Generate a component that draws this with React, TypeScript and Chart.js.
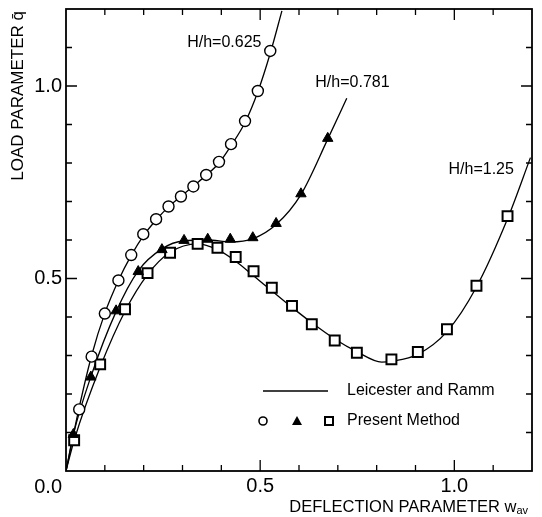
import React, { useEffect, useRef } from 'react';
import { Chart, registerables } from 'chart.js';

Chart.register(...registerables);

// ---- Data ----
// Present Method markers
const circleX = [0.034, 0.066, 0.1, 0.135, 0.168, 0.199, 0.232, 0.264, 0.296, 0.328, 0.361, 0.394, 0.425, 0.461, 0.494, 0.526];
const circleY = [0.16, 0.297, 0.409, 0.495, 0.561, 0.615, 0.654, 0.687, 0.713, 0.739, 0.769, 0.803, 0.849, 0.909, 0.987, 1.091];

const triangleX = [0.019, 0.064, 0.129, 0.186, 0.247, 0.304, 0.365, 0.423, 0.481, 0.541, 0.605, 0.674];
const triangleY = [0.095, 0.244, 0.416, 0.518, 0.575, 0.599, 0.602, 0.602, 0.606, 0.643, 0.72, 0.864];

const squareX = [0.021, 0.088, 0.152, 0.21, 0.268, 0.339, 0.39, 0.437, 0.483, 0.53, 0.582, 0.633, 0.692, 0.749, 0.838, 0.906, 0.981, 1.057, 1.137];
const squareY = [0.08, 0.277, 0.42, 0.514, 0.567, 0.59, 0.58, 0.556, 0.519, 0.476, 0.429, 0.381, 0.339, 0.307, 0.29, 0.309, 0.368, 0.481, 0.662];

// Leicester and Ramm curves
const line625X = [0, 0.034, 0.066, 0.1, 0.135, 0.168, 0.2, 0.232, 0.264, 0.296, 0.328, 0.361, 0.394, 0.425, 0.461, 0.494, 0.526, 0.556];
const line625Y = [0, 0.165, 0.3, 0.41, 0.495, 0.56, 0.612, 0.652, 0.686, 0.713, 0.74, 0.768, 0.8, 0.845, 0.905, 0.985, 1.085, 1.195];

const line781X = [0, 0.019, 0.064, 0.129, 0.186, 0.247, 0.304, 0.365, 0.423, 0.481, 0.541, 0.605, 0.674, 0.723];
const line781Y = [0, 0.095, 0.245, 0.414, 0.52, 0.577, 0.598, 0.6, 0.595, 0.603, 0.64, 0.718, 0.862, 0.968];

const line125X = [0, 0.021, 0.088, 0.152, 0.21, 0.268, 0.339, 0.39, 0.437, 0.483, 0.53, 0.582, 0.633, 0.692, 0.749, 0.813, 0.838, 0.906, 0.981, 1.057, 1.137, 1.196];
const line125Y = [0, 0.08, 0.27, 0.415, 0.51, 0.568, 0.59, 0.575, 0.545, 0.507, 0.468, 0.425, 0.385, 0.343, 0.31, 0.283, 0.285, 0.303, 0.362, 0.478, 0.655, 0.814];

// Axes
const minorTicks = [0.1, 0.2, 0.3, 0.4, 0.6, 0.7, 0.8, 0.9, 1.1];
const majorTicks = [0.5, 1.0];
const tickLabels = ['0.5', '1.0'];
const cornerLabel = '0.0';
const xTitle = 'DEFLECTION PARAMETER w';
const xTitleSub = 'av';
const yTitle = 'LOAD PARAMETER q\u0304';

// Curve labels and legend text
const seriesLabels = ['H/h=0.625', 'H/h=0.781', 'H/h=1.25'];
const seriesLabelAt = [
  [0.312, 1.112],
  [0.642, 1.008],
  [0.985, 0.782],
];
const legendLine = 'Leicester and Ramm';
const legendMarkers = 'Present Method';

const FONT = "'Liberation Sans', Arial, Helvetica, sans-serif";

const toPts = (xs: number[], ys: number[]) => xs.map((x, i) => ({ x, y: ys[i] }));

const fmt = (v: number) => {
  const i = majorTicks.findIndex((m) => Math.abs(m - v) < 1e-6);
  return i >= 0 ? tickLabels[i] : '';
};

const decorPlugin = {
  id: 'decor',
  afterDraw(chart: any) {
    const { ctx, chartArea: a } = chart;
    const xs = chart.scales.x;
    const ys = chart.scales.y;
    ctx.save();
    ctx.strokeStyle = '#000';
    ctx.fillStyle = '#000';

    // frame
    ctx.lineWidth = 1.8;
    ctx.strokeRect(a.left, a.top, a.right - a.left, a.bottom - a.top);

    // inner ticks on all four sides
    ctx.lineWidth = 1.3;
    const drawTicks = (vals: number[], len: number) => {
      ctx.beginPath();
      for (const v of vals) {
        const px = xs.getPixelForValue(v);
        ctx.moveTo(px, a.bottom);
        ctx.lineTo(px, a.bottom - len);
        ctx.moveTo(px, a.top);
        ctx.lineTo(px, a.top + len);
        const py = ys.getPixelForValue(v);
        ctx.moveTo(a.left, py);
        ctx.lineTo(a.left + len, py);
        ctx.moveTo(a.right, py);
        ctx.lineTo(a.right - len, py);
      }
      ctx.stroke();
    };
    drawTicks(minorTicks, 6);
    drawTicks(majorTicks, 11);

    // corner label 0.0
    ctx.font = `20px ${FONT}`;
    ctx.textAlign = 'right';
    ctx.textBaseline = 'middle';
    ctx.fillText(cornerLabel, a.left - 4, a.bottom + 16);

    // x axis title with subscript
    ctx.font = `16.5px ${FONT}`;
    const mainW = ctx.measureText(xTitle).width;
    ctx.font = `11px ${FONT}`;
    const subW = ctx.measureText(xTitleSub).width;
    const endX = a.right - 4;
    const ty = a.bottom + 36;
    ctx.textAlign = 'left';
    ctx.font = `16.5px ${FONT}`;
    ctx.fillText(xTitle, endX - subW - mainW, ty);
    ctx.font = `11px ${FONT}`;
    ctx.fillText(xTitleSub, endX - subW, ty + 4);

    // y axis title (rotated)
    ctx.save();
    ctx.translate(18, a.top + 2);
    ctx.rotate(-Math.PI / 2);
    ctx.font = `17px ${FONT}`;
    ctx.textAlign = 'right';
    ctx.textBaseline = 'middle';
    ctx.fillText(yTitle, 0, 0);
    ctx.restore();

    // curve labels
    ctx.font = `16px ${FONT}`;
    ctx.textAlign = 'left';
    ctx.textBaseline = 'middle';
    seriesLabels.forEach((t, i) => {
      const [lx, ly] = seriesLabelAt[i];
      ctx.fillText(t, xs.getPixelForValue(lx), ys.getPixelForValue(ly));
    });

    // legend
    const lx0 = a.left + 197;
    const ly1 = a.top + 382;
    const ly2 = a.top + 412;
    ctx.lineWidth = 1.3;
    ctx.beginPath();
    ctx.moveTo(lx0, ly1);
    ctx.lineTo(lx0 + 65, ly1);
    ctx.stroke();
    ctx.fillText(legendLine, lx0 + 84, ly1);
    // markers
    ctx.lineWidth = 1.6;
    ctx.beginPath();
    ctx.arc(lx0, ly2, 4, 0, Math.PI * 2);
    ctx.stroke();
    const tx = lx0 + 34;
    ctx.beginPath();
    ctx.moveTo(tx, ly2 - 5);
    ctx.lineTo(tx + 5, ly2 + 4);
    ctx.lineTo(tx - 5, ly2 + 4);
    ctx.closePath();
    ctx.fill();
    ctx.lineWidth = 2;
    ctx.strokeRect(lx0 + 62, ly2 - 4, 8, 8);
    ctx.fillText(legendMarkers, lx0 + 84, ly2);

    ctx.restore();
  },
};

export default function App() {
  const ref = useRef<HTMLCanvasElement | null>(null);

  useEffect(() => {
    if (!ref.current) return;
    const lineDs = (xs: number[], ys: number[]) => ({
      data: toPts(xs, ys),
      showLine: true,
      borderColor: '#000',
      borderWidth: 1.3,
      pointRadius: 0,
      cubicInterpolationMode: 'monotone' as const,
      fill: false,
    });
    const onlyMajor = (s: any) => {
      s.ticks = majorTicks.map((v) => ({ value: v }));
    };
    const chart = new Chart(ref.current, {
      type: 'scatter',
      data: {
        datasets: [
          {
            data: toPts(circleX, circleY),
            pointStyle: 'circle',
            pointRadius: 5.5,
            pointBorderWidth: 1.4,
            pointBorderColor: '#000',
            pointBackgroundColor: '#fff',
            showLine: false,
          },
          {
            data: toPts(triangleX, triangleY),
            pointStyle: 'triangle',
            pointRadius: 6,
            pointBorderWidth: 1,
            pointBorderColor: '#000',
            pointBackgroundColor: '#000',
            showLine: false,
          },
          {
            data: toPts(squareX, squareY),
            pointStyle: 'rect',
            pointRadius: 7,
            pointBorderWidth: 2,
            pointBorderColor: '#000',
            pointBackgroundColor: '#fff',
            showLine: false,
          },
          lineDs(line625X, line625Y),
          lineDs(line781X, line781Y),
          lineDs(line125X, line125Y),
        ] as any,
      },
      options: {
        animation: false,
        responsive: false,
        events: [],
        layout: { padding: { left: 0, right: 10, top: 8, bottom: 0 } },
        plugins: {
          legend: { display: false },
          tooltip: { enabled: false },
        },
        scales: {
          x: {
            type: 'linear',
            min: 0,
            max: 1.2,
            grid: { display: false, drawTicks: false },
            border: { display: false },
            afterBuildTicks: onlyMajor,
            ticks: {
              autoSkip: false,
              maxRotation: 0,
              padding: 3,
              color: '#000',
              font: { family: FONT, size: 20 },
              callback: (v: any) => fmt(Number(v)),
            },
            afterFit: (s: any) => {
              s.height = 46;
              s.paddingLeft = 0;
              s.paddingRight = 0;
              s.paddingTop = 0;
              s.paddingBottom = 0;
            },
          },
          y: {
            type: 'linear',
            min: 0,
            max: 1.2,
            grid: { display: false, drawTicks: false },
            border: { display: false },
            afterBuildTicks: onlyMajor,
            ticks: {
              autoSkip: false,
              padding: 4,
              color: '#000',
              font: { family: FONT, size: 20 },
              callback: (v: any) => fmt(Number(v)),
            },
            afterFit: (s: any) => {
              s.width = 66;
              s.paddingLeft = 0;
              s.paddingRight = 0;
              s.paddingTop = 0;
              s.paddingBottom = 0;
            },
          },
        },
      } as any,
      plugins: [decorPlugin],
    });
    return () => chart.destroy();
  }, []);

  return (
    <div style={{ position: 'absolute', left: 0, top: 0, width: 542, height: 517, background: '#fff' }}>
      <canvas ref={ref} width={542} height={517} style={{ display: 'block' }} />
    </div>
  );
}
